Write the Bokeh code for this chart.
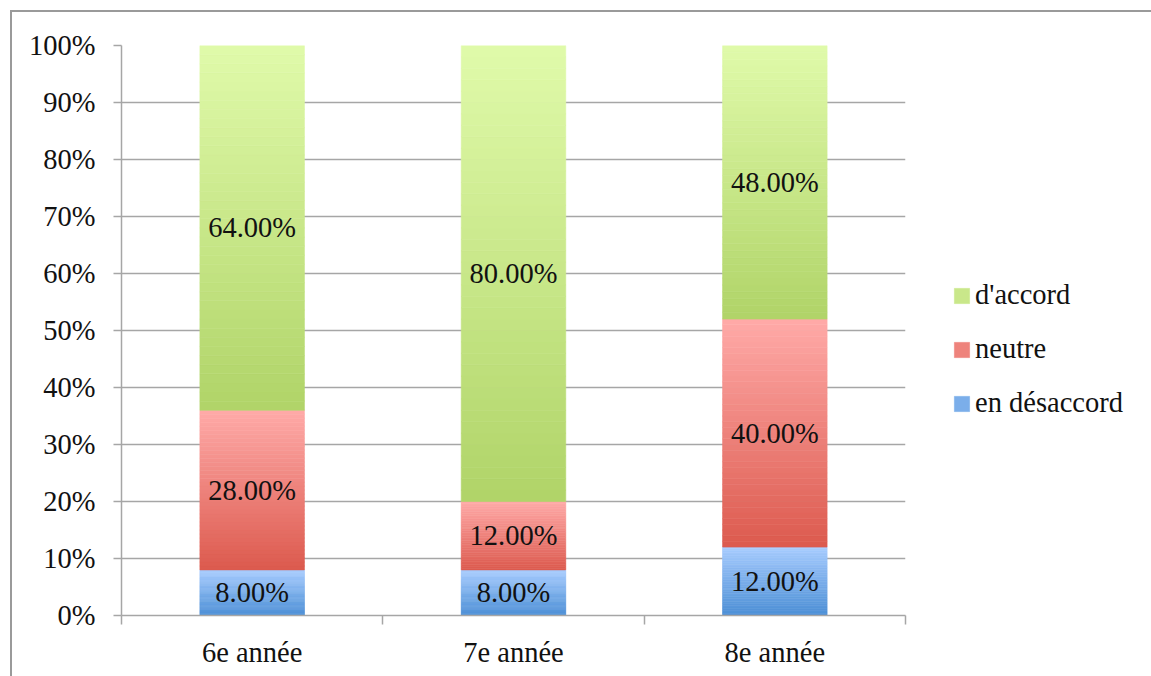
from bokeh.plotting import figure
from bokeh.models import (FixedTicker, NumeralTickFormatter, Range1d, Legend, LegendItem,
                          ColumnDataSource, InlineStyleSheet)
from bokeh.core.properties import value
from bokeh.embed import file_html
from bokeh.resources import INLINE

categories = ["6e année", "7e année", "8e année"]
en_desaccord = [8.0, 8.0, 12.0]
neutre = [28.0, 12.0, 40.0]
d_accord = [64.0, 80.0, 48.0]
series_names = ["en désaccord", "neutre", "d'accord"]
y_ticks = [0.0, 0.1, 0.2, 0.3, 0.4, 0.5, 0.6, 0.7, 0.8, 0.9, 1.0]

# gradient colours per series (bottom/dark, top/light)
grad = {
    "en désaccord": ("#4c8fd6", "#a8ccfe"),
    "neutre": ("#dc5a4e", "#ffaaa8"),
    "d'accord": ("#b0d468", "#e0faaa"),
}

FONT = "Liberation Serif"
FS = "28.5px"
GRAY = "#a6a6a6"

p = figure(frame_width=784, frame_height=570, output_backend="svg", toolbar_location=None,
           x_range=Range1d(0, 3), y_range=Range1d(0, 1),
           min_border_left=121, min_border_right=246, min_border_top=45, min_border_bottom=61)
p.outline_line_color = None
p.background_fill_color = "white"
p.border_fill_color = "white"

def hex2rgb(h):
    return tuple(int(h[i:i + 2], 16) for i in (1, 3, 5))

def mix(c1, c2, f):
    a, b = hex2rgb(c1), hex2rgb(c2)
    return "#%02x%02x%02x" % tuple(round(a[i] + (b[i] - a[i]) * f) for i in range(3))

N = 40
bw = 0.4
renderers = {}
lx, ly, lt = [], [], []
bases = [0.0] * len(categories)
for name, vals in zip(series_names, [en_desaccord, neutre, d_accord]):
    L, R, T, B, C = [], [], [], [], []
    for i, cat in enumerate(categories):
        v = vals[i] / 100.0
        b0, t0 = bases[i], bases[i] + v
        for k in range(N):
            L.append(i + 0.5 - bw / 2)
            R.append(i + 0.5 + bw / 2)
            B.append(b0 + v * k / N)
            T.append(b0 + v * (k + 1) / N)
            C.append(mix(grad[name][0], grad[name][1], (k + 0.5) / N))
        lx.append(i + 0.5)
        ly.append((b0 + t0) / 2)
        lt.append("%.2f%%" % vals[i])
        bases[i] = t0
    src = ColumnDataSource(dict(left=L, right=R, top=T, bottom=B, color=C))
    renderers[name] = p.quad(left="left", right="right", top="top", bottom="bottom", source=src,
                             fill_color="color", line_color="color", line_width=0.6)

p.text(x=lx, y=ly, text=lt, text_font=value(FONT), text_font_size=FS,
       text_align="center", text_baseline="middle", text_color="#111111")

# legend
items = [LegendItem(label=name, renderers=[renderers[name]], index=N // 2)
         for name in ["d'accord", "neutre", "en désaccord"]]
leg = Legend(items=items, location=(47, 196), padding=0, margin=0,
             border_line_alpha=0, background_fill_alpha=0,
             glyph_width=19, glyph_height=19, label_standoff=4, spacing=22,
             label_text_font=FONT, label_text_font_size=FS, label_text_color="#111111")
p.add_layout(leg, "right")

# axes
p.yaxis.ticker = FixedTicker(ticks=y_ticks)
p.yaxis.formatter = NumeralTickFormatter(format="0%")
p.yaxis.major_tick_out = 8
p.yaxis.major_tick_in = 0
p.yaxis.minor_tick_out = 0
p.yaxis.minor_tick_in = 0
p.yaxis.major_label_standoff = 18
p.yaxis.axis_line_color = GRAY
p.yaxis.major_tick_line_color = GRAY
p.yaxis.axis_line_width = 1.5
p.yaxis.major_tick_line_width = 1.5

p.xaxis.ticker = FixedTicker(ticks=[0.5, 1.5, 2.5], minor_ticks=[0, 1, 2, 3])
p.xaxis.major_label_overrides = {0.5: categories[0], 1.5: categories[1], 2.5: categories[2]}
p.xaxis.major_tick_out = 0
p.xaxis.major_tick_in = 0
p.xaxis.minor_tick_out = 9
p.xaxis.minor_tick_in = 0
p.xaxis.major_label_standoff = 12
p.xaxis.axis_line_color = GRAY
p.xaxis.minor_tick_line_color = GRAY
p.xaxis.axis_line_width = 1.5
p.xaxis.minor_tick_line_width = 1.5

for ax in (p.xaxis, p.yaxis):
    ax.major_label_text_font = FONT
    ax.major_label_text_font_size = FS
    ax.major_label_text_color = "#111111"

p.xgrid.visible = False
p.ygrid.ticker = FixedTicker(ticks=y_ticks)
p.ygrid.grid_line_color = GRAY
p.ygrid.grid_line_width = 1.5

# outer frame of the chart area
p.stylesheets = [InlineStyleSheet(css=(
    ":host { position: relative; } "
    ":host::after { content: ''; position: absolute; left: 10px; top: 10px; right: 0; bottom: 0; "
    "border-left: 2px solid #9a9a9a; border-top: 2px solid #9a9a9a; pointer-events: none; }"))]

open("out.html", "w").write(file_html(p, INLINE))
